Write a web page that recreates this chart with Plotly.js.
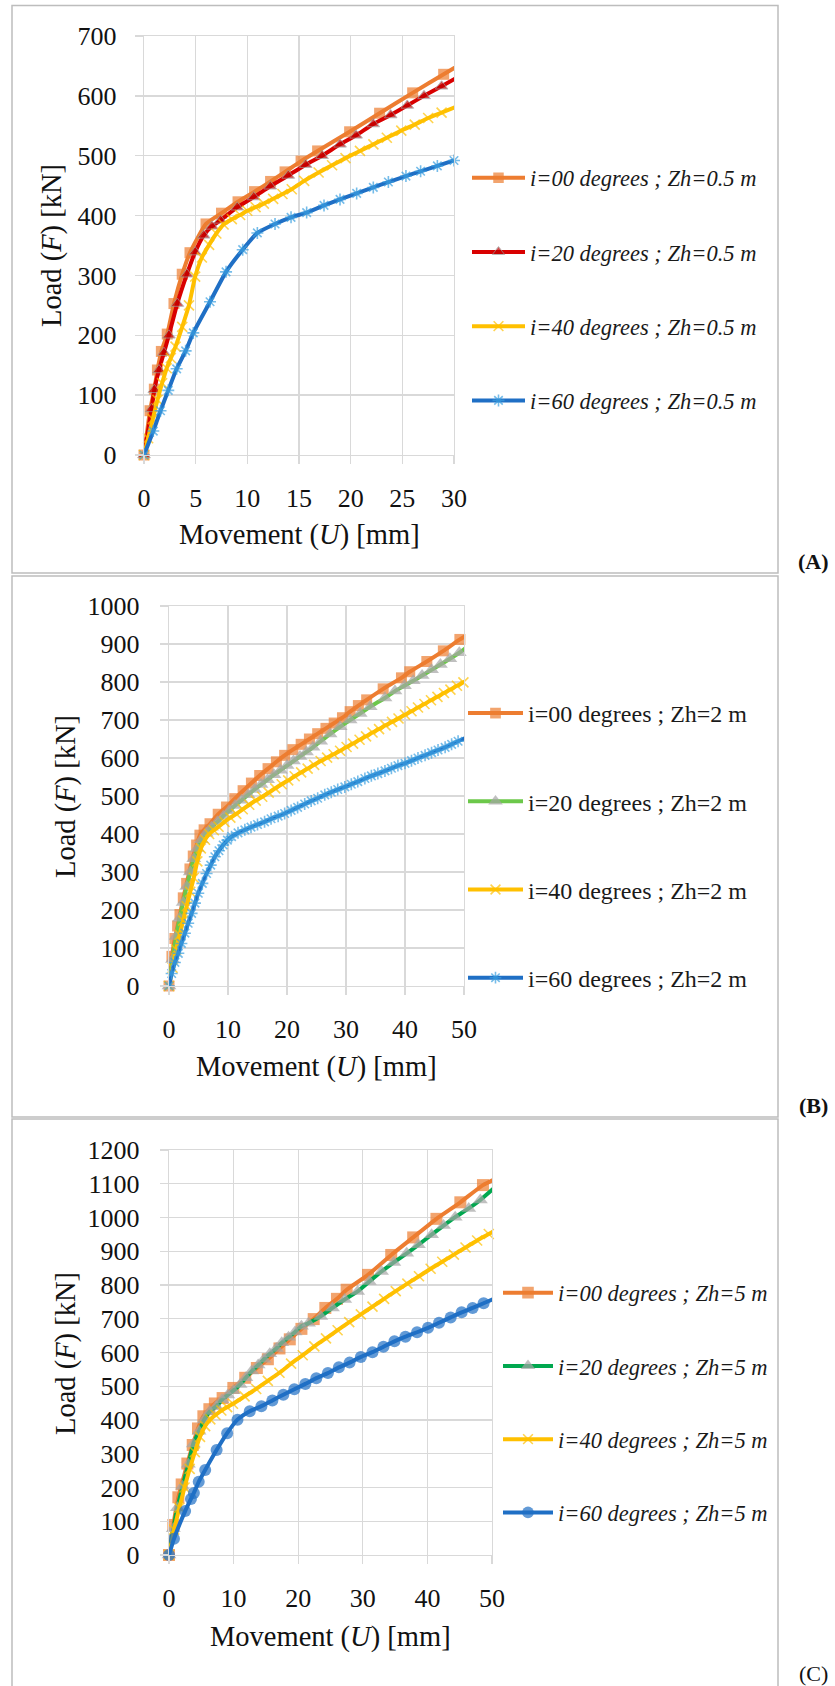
<!DOCTYPE html>
<html><head><meta charset="utf-8">
<script src="https://cdn.plot.ly/plotly-3.0.1.min.js"></script>
<style>html,body{margin:0;padding:0;background:#fff;}#chart{width:835px;height:1686px;}</style>
</head><body><div id="chart"></div>
<script>
// ---------- Panel A : Zh = 0.5 m ----------
const uA00 = [0, 0.58, 1.0, 1.3, 1.68, 2.25, 2.9, 3.7, 4.45, 6.0, 7.5, 9.1, 10.7, 12.25, 13.65, 15.2, 16.8, 19.9, 22.8, 26.0, 29.0, 32.0];
const fA00 = [0, 74, 110, 142, 173, 202, 253, 302, 338, 386, 404, 423, 440, 457, 473, 491, 508, 540, 571, 605, 636, 667];
const uA20 = [0, 0.74, 1.0, 1.45, 1.93, 2.41, 3.22, 4.15, 4.95, 5.78, 6.58, 7.4, 9.02, 10.62, 12.22, 13.96, 15.65, 17.23, 18.97, 20.52, 22.19, 23.87, 25.48, 27.1, 28.8, 30.45];
const fA20 = [0, 77, 109, 142, 171, 200, 253, 302, 339, 367, 382, 392, 414, 431, 449, 467, 485, 500, 519, 534, 553, 568, 584, 600, 616, 632];
const uA40 = [0, 0.4, 0.85, 1.3, 1.75, 2.2, 2.6, 3.05, 3.7, 4.35, 4.95, 5.6, 6.3, 7.0, 7.7, 8.5, 9.3, 10.0, 10.8, 11.6, 12.5, 13.4, 14.3, 15.5, 16.9, 18.2, 19.5, 20.9, 22.2, 23.5, 24.9, 26.2, 27.5, 28.8, 30.1];
const fA40 = [0, 28, 60, 92, 120, 145, 162, 181, 214, 250, 298, 330, 351, 370, 385, 394, 401, 408, 414, 420, 428, 436, 444, 458, 472, 484, 496, 508, 519, 530, 542, 552, 563, 572, 581];
const uA60 = [0, 0.9, 1.6, 2.35, 3.16, 4.03, 4.77, 6.39, 7.94, 9.55, 10.97, 12.68, 14.23, 15.74, 17.42, 18.97, 20.58, 22.19, 23.65, 25.35, 26.77, 28.39, 30.0];
const fA60 = [0, 40, 74, 108, 144, 174, 204, 256, 306, 343, 371, 386, 397, 405, 417, 427, 437, 447, 456, 466, 474, 483, 492];

// ---------- Panel B : Zh = 2 m ----------
const uB00 = [0, 0.5, 1.0, 1.46, 1.86, 2.42, 2.99, 3.55, 4.11, 4.68, 5.24, 5.95, 6.95, 8.34, 9.75, 11.15, 12.56, 13.97, 15.37, 16.79, 18.2, 19.6, 21.0, 22.4, 23.8, 25.2, 26.6, 28.0, 29.4, 30.7, 32.1, 33.5, 36.3, 39.4, 40.8, 43.7, 46.5, 49.3, 52.0];
const fB00 = [0, 78, 125, 158, 188, 232, 270, 308, 342, 371, 397, 411, 427, 452, 471, 493, 514, 534, 554, 572, 590, 607, 622, 636, 650, 664, 678, 692, 706, 722, 738, 753, 782, 811, 827, 854, 882, 912, 938];
const uB20 = [0, 0.6, 1.2, 1.8, 2.4, 3.0, 3.6, 4.2, 4.8, 5.5, 6.3, 7.2, 8.2, 9.2, 10.2, 11.2, 12.3, 13.4, 14.5, 15.6, 16.7, 17.8, 18.9, 20.0, 21.1, 22.2, 23.3, 24.4, 25.7, 27.3, 29.0, 30.7, 32.4, 34.1, 36.6, 38.3, 39.9, 41.4, 42.9, 44.5, 46.0, 47.6, 49.2, 50.8];
const fB20 = [0, 70, 130, 178, 220, 262, 300, 335, 362, 385, 402, 418, 432, 447, 461, 475, 489, 503, 517, 530, 543, 556, 568, 580, 592, 604, 616, 628, 644, 663, 682, 700, 717, 735, 758, 776, 790, 803, 817, 832, 846, 861, 877, 896];
const uB40 = [0, 0.6, 1.2, 1.8, 2.4, 3.0, 3.6, 4.2, 4.8, 5.4, 6.1, 6.8, 7.6, 8.4, 9.4, 10.4, 11.4, 12.5, 13.6, 14.7, 15.8, 16.9, 18.0, 19.1, 20.2, 21.3, 22.4, 23.5, 24.6, 25.7, 26.8, 27.9, 29.0, 30.1, 31.2, 32.3, 33.4, 34.5, 35.6, 36.7, 37.8, 38.9, 40.0, 41.1, 42.2, 43.3, 44.4, 45.5, 46.6, 47.7, 48.8, 49.9, 51.0];
const fB40 = [0, 48, 96, 135, 172, 210, 248, 285, 328, 362, 385, 400, 410, 419, 432, 443, 453, 465, 477, 488, 498, 509, 520, 531, 541, 552, 562, 572, 582, 592, 601, 610, 619, 629, 638, 648, 657, 667, 676, 686, 695, 704, 714, 723, 733, 742, 752, 761, 771, 780, 790, 799, 808];
const uB60 = [0, 0.45, 1.0, 1.58, 2.1, 2.7, 3.25, 3.83, 4.4, 4.96, 5.65, 6.37, 7.07, 7.77, 8.47, 9.18, 9.9, 10.6, 11.7, 12.85, 13.9, 15.0, 16.2, 17.3, 18.5, 19.6, 20.7, 21.8, 23.0, 24.1, 25.2, 26.4, 27.5, 28.6, 29.8, 30.9, 32.0, 33.2, 34.3, 35.4, 36.6, 37.7, 38.8, 40.0, 41.1, 42.2, 43.4, 44.5, 45.6, 46.8, 47.9, 49.0, 50.1];
const fB60 = [0, 33, 62, 86, 112, 139, 165, 191, 218, 244, 270, 296, 318, 340, 356, 371, 384, 393, 403, 411, 418, 425, 432, 440, 447, 454, 462, 470, 479, 487, 494, 503, 510, 517, 524, 531, 538, 546, 553, 559, 566, 573, 580, 586, 593, 600, 607, 614, 621, 628, 636, 644, 652];

// ---------- Panel C : Zh = 5 m ----------
const uC00 = [0, 0.67, 1.45, 1.96, 2.84, 3.67, 4.49, 5.32, 6.25, 7.1, 8.3, 9.96, 11.8, 13.6, 15.3, 17.1, 18.7, 20.5, 22.4, 24.2, 26.0, 27.5, 30.8, 34.4, 37.8, 41.4, 45.1, 48.6, 52.0];
const fC00 = [0, 89, 171, 209, 271, 326, 375, 411, 432, 449, 465, 495, 525, 554, 580, 612, 639, 670, 699, 732, 759, 786, 830, 889, 941, 996, 1045, 1096, 1128];
const uC20 = [0, 0.67, 1.3, 2.1, 3.0, 3.77, 4.65, 5.42, 6.3, 7.3, 8.2, 9.1, 9.96, 11.0, 11.9, 12.8, 13.8, 14.7, 15.6, 16.6, 17.45, 18.5, 19.5, 20.5, 21.6, 23.5, 25.3, 27.2, 29.2, 31.0, 32.9, 34.8, 36.8, 38.6, 40.65, 42.5, 44.3, 46.4, 48.2, 50.2];
const fC20 = [0, 78, 140, 204, 269, 329, 367, 400, 425, 440, 460, 474, 487, 505, 525, 545, 563, 580, 596, 612, 629, 645, 661, 678, 687, 707, 732, 757, 781, 810, 840, 867, 894, 919, 949, 976, 1001, 1027, 1052, 1085];
const uC40 = [0, 0.8, 1.6, 2.4, 3.2, 4.0, 4.8, 5.6, 6.4, 7.2, 8.1, 9.0, 9.9, 11.7, 13.5, 15.3, 17.1, 18.9, 20.7, 22.5, 24.3, 26.1, 27.9, 29.7, 31.5, 33.3, 35.1, 36.9, 38.7, 40.5, 42.3, 44.1, 45.9, 47.7, 49.5, 51.3];
const fC40 = [0, 75, 140, 200, 255, 305, 350, 382, 402, 415, 428, 438, 448, 470, 492, 516, 540, 567, 592, 618, 642, 666, 690, 713, 736, 759, 782, 804, 826, 848, 869, 890, 911, 932, 951, 970];
const uC60 = [0, 0.77, 2.5, 3.4, 3.85, 4.6, 5.6, 7.37, 9.0, 10.6, 12.5, 14.3, 16.0, 17.7, 19.4, 21.1, 22.8, 24.6, 26.3, 27.95, 29.7, 31.5, 33.2, 34.9, 36.6, 38.4, 40.1, 41.8, 43.6, 45.3, 47.0, 48.7, 50.4];
const fC60 = [0, 48, 130, 166, 184, 217, 252, 311, 361, 401, 426, 441, 458, 475, 491, 507, 524, 539, 556, 570, 587, 601, 617, 633, 647, 660, 673, 688, 704, 719, 732, 746, 760];

// ---------- labels ----------
const namesA = ['i=00 degrees ; Zh=0.5 m', 'i=20 degrees ; Zh=0.5 m', 'i=40 degrees ; Zh=0.5 m', 'i=60 degrees ; Zh=0.5 m'];
const namesB = ['i=00 degrees ; Zh=2 m', 'i=20 degrees ; Zh=2 m', 'i=40 degrees ; Zh=2 m', 'i=60 degrees ; Zh=2 m'];
const namesC = ['i=00 degrees ; Zh=5 m', 'i=20 degrees ; Zh=5 m', 'i=40 degrees ; Zh=5 m', 'i=60 degrees ; Zh=5 m'];
const xTitle = 'Movement (<i>U</i>) [mm]';
const yTitle = 'Load (<i>F</i>) [kN]';
const panelTags = ['<b>(A)</b>', '<b>(B)</b>', '(C)'];

// ---------- layout helpers ----------
const W = 835, H = 1686;
const FONT = '"Liberation Serif", "Times New Roman", serif';
const px = x => x / W;
const py = y => 1 - y / H;

const ORANGE = '#ED7D31', RED = '#D90000', YELLOW = '#FFC000', BLUE = '#1F6FC5', BLUEM = '#3AA0E0',
      GREENB = '#6CC84A', GREENC = '#00A84F', GRAY = '#A5A5A5';

function hideBeyond(u, xmax, size) { return u.map(v => (v <= xmax + 1e-9 ? size : 0)); }

function tr(u, f, name, xa, ya, leg, grp, lineColor, sym, mColor, mSize, mLine, xmax) {
  return {
    type: 'scatter', mode: 'lines+markers', x: u, y: f, name: name,
    xaxis: xa, yaxis: ya, legend: leg, legendgroup: grp, cliponaxis: false,
    line: { color: lineColor, width: 4, shape: 'spline', smoothing: 0.5 },
    marker: { symbol: sym, color: mColor, size: hideBeyond(u, xmax, mSize), line: mLine },
    hoverinfo: 'x+y'
  };
}

const noLine = { width: 0 };
const triLine = { color: '#9a9a9a', width: 1 };
const xLine = { color: YELLOW, width: 1.6 };
const astLine = { color: BLUEM, width: 1.6 };

const data = [
  tr(uA00, fA00, namesA[0], 'x', 'y', 'legend', 'a0', ORANGE, 'square', ORANGE, 11, noLine, 30),
  tr(uA20, fA20, namesA[1], 'x', 'y', 'legend', 'a1', RED, 'triangle-up', '#C00000', 11, triLine, 30),
  tr(uA40, fA40, namesA[2], 'x', 'y', 'legend', 'a2', YELLOW, 'x-thin-open', YELLOW, 10, xLine, 30),
  tr(uA60, fA60, namesA[3], 'x', 'y', 'legend', 'a3', BLUE, 'asterisk-open', BLUEM, 10, astLine, 30),

  tr(uB00, fB00, namesB[0], 'x2', 'y2', 'legend2', 'b0', ORANGE, 'square', ORANGE, 11, noLine, 50),
  tr(uB20, fB20, namesB[1], 'x2', 'y2', 'legend2', 'b1', GREENB, 'triangle-up', GRAY, 13, noLine, 50),
  tr(uB40, fB40, namesB[2], 'x2', 'y2', 'legend2', 'b2', YELLOW, 'x-thin-open', YELLOW, 10, xLine, 50),
  tr(uB60, fB60, namesB[3], 'x2', 'y2', 'legend2', 'b3', BLUE, 'asterisk-open', BLUEM, 10, astLine, 50),

  tr(uC00, fC00, namesC[0], 'x3', 'y3', 'legend3', 'c0', ORANGE, 'square', ORANGE, 12, noLine, 50),
  tr(uC20, fC20, namesC[1], 'x3', 'y3', 'legend3', 'c1', GREENC, 'triangle-up', GRAY, 13, noLine, 50),
  tr(uC40, fC40, namesC[2], 'x3', 'y3', 'legend3', 'c2', YELLOW, 'x-thin-open', YELLOW, 10, xLine, 50),
  tr(uC60, fC60, namesC[3], 'x3', 'y3', 'legend3', 'c3', BLUE, 'circle', BLUE, 12, noLine, 50)
];

function axis(dom, rng, dt, anchor, standoff) {
  return {
    domain: dom, range: rng, dtick: dt, tick0: 0, anchor: anchor,
    showgrid: true, gridcolor: '#d9d9d9', gridwidth: 1.3,
    showline: true, linecolor: '#d9d9d9', linewidth: 1.3, mirror: true,
    ticks: 'outside', ticklen: 8, tickcolor: '#d9d9d9', tickwidth: 1.3,
    ticklabelstandoff: standoff,
    tickfont: { family: FONT, size: 26, color: '#111' },
    zeroline: false, fixedrange: true
  };
}

function legendAt(xLeft, yMid, size, italic, gap, iw) {
  return {
    x: px(xLeft), y: py(yMid), xanchor: 'left', yanchor: 'middle',
    font: { family: FONT, size: size, color: '#1a1a1a', style: italic ? 'italic' : 'normal' },
    tracegroupgap: gap, itemwidth: iw, bgcolor: 'rgba(0,0,0,0)', borderwidth: 0
  };
}

function txt(text, x, y, size, angle, extra) {
  return Object.assign({
    text: text, x: px(x), y: py(y), xref: 'paper', yref: 'paper',
    xanchor: 'center', yanchor: 'middle', showarrow: false, textangle: angle || 0,
    font: { family: FONT, size: size, color: '#111' }
  }, extra || {});
}

function box(y0, y1) {
  return { type: 'rect', xref: 'paper', yref: 'paper', x0: px(12), x1: px(778), y0: py(y1), y1: py(y0),
           line: { color: '#bdbdbd', width: 1.5 }, fillcolor: 'rgba(0,0,0,0)' };
}

const layout = {
  width: W, height: H, margin: { l: 0, r: 0, t: 0, b: 0 },
  paper_bgcolor: '#fff', plot_bgcolor: '#fff',
  font: { family: FONT, color: '#111' },
  xaxis: axis([px(144), px(454)], [0, 30], 5, 'y', 11),
  yaxis: axis([py(455), py(36)], [0, 700], 100, 'x', 13),
  xaxis2: axis([px(169), px(464)], [0, 50], 10, 'y2', 11),
  yaxis2: axis([py(986), py(606)], [0, 1000], 100, 'x2', 15),
  xaxis3: axis([px(169), px(492)], [0, 50], 10, 'y3', 11),
  yaxis3: axis([py(1555), py(1150)], [0, 1200], 100, 'x3', 15),
  showlegend: true,
  legend: legendAt(467, 289, 22.5, true, 42, 53),
  legend2: legendAt(463, 845.5, 24, false, 54, 55),
  legend3: legendAt(498, 1402.5, 22.5, true, 41, 50),
  shapes: [box(5.5, 573), box(576, 1117), box(1119, 1700)],
  annotations: [
    txt(xTitle, 299, 535, 28.5), txt(yTitle, 52, 246, 28.5, -90),
    txt(xTitle, 316, 1067, 28.5), txt(yTitle, 66, 797, 28.5, -90),
    txt(xTitle, 330, 1637, 28.5), txt(yTitle, 66, 1354, 28.5, -90),
    txt(panelTags[0], 813, 561, 22), txt(panelTags[1], 813, 1105, 22), txt(panelTags[2], 813, 1673, 22)
  ]
};

Plotly.newPlot('chart', data, layout, { staticPlot: true, displayModeBar: false });
</script></body></html>
